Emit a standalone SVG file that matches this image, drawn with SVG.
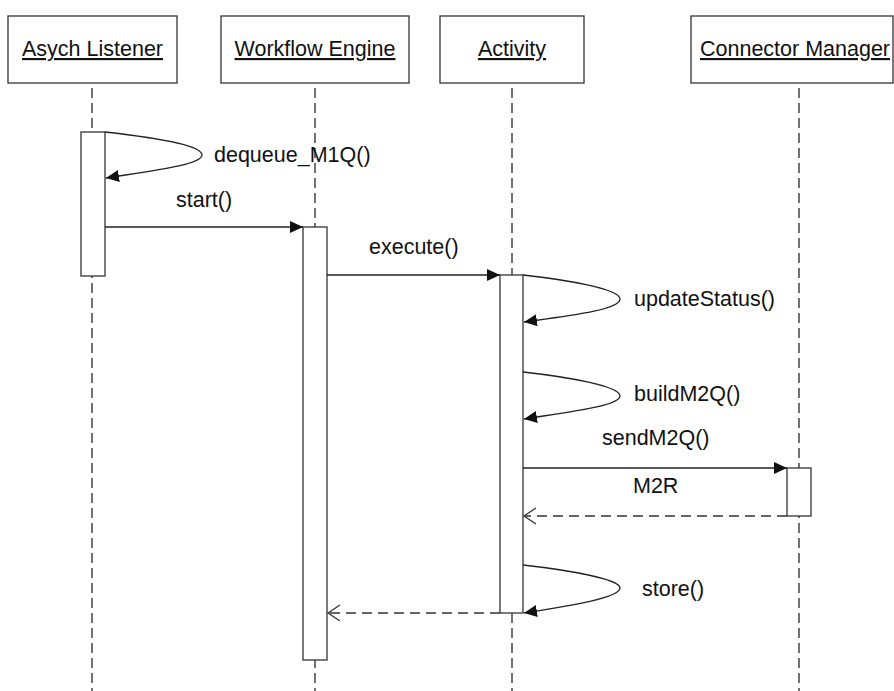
<svg xmlns="http://www.w3.org/2000/svg" width="894" height="691" viewBox="0 0 894 691">
  <style>
    .box { fill: #fff; stroke: #333; stroke-width: 1.3; }
    .life { stroke: #444; stroke-width: 1.5; stroke-dasharray: 10 5; fill: none; }
    .bar { fill: #fff; stroke: #333; stroke-width: 1.3; }
    .msg { stroke: #222; stroke-width: 1.3; fill: none; }
    .ret { stroke: #333; stroke-width: 1.3; fill: none; stroke-dasharray: 10 6; }
    .title { font-family: "Liberation Sans", Arial, sans-serif; font-size: 21.5px; fill: #111; text-anchor: middle; text-decoration: underline; }
    .lbl { font-family: "Liberation Sans", Arial, sans-serif; font-size: 21.5px; fill: #111; }
  </style>
  <defs>
    <marker id="solid" markerWidth="14" markerHeight="12" refX="13" refY="6" orient="auto" markerUnits="userSpaceOnUse">
      <path d="M0,0 L13,6 L0,12 Z" fill="#111"/>
    </marker>
    <marker id="open" markerWidth="14" markerHeight="18" refX="12" refY="9" orient="auto" markerUnits="userSpaceOnUse">
      <path d="M0,1 L12,9 L0,17" fill="none" stroke="#333" stroke-width="1.3"/>
    </marker>
  </defs>

  <!-- lifelines -->
  <g id="lifelines">
    <line class="life" x1="92" y1="88" x2="92" y2="691"/>
    <line class="life" x1="315" y1="88" x2="315" y2="691"/>
    <line class="life" x1="512" y1="88" x2="512" y2="691"/>
    <line class="life" x1="799" y1="88" x2="799" y2="691"/>
  </g>

  <!-- participants -->
  <g id="asych-listener">
    <rect class="box" x="8" y="16" width="169" height="67"/>
    <text class="title" x="92.5" y="56">Asych Listener</text>
    <rect class="bar" x="81" y="132" width="24" height="144"/>
  </g>
  <g id="workflow-engine">
    <rect class="box" x="221" y="16" width="188" height="67"/>
    <text class="title" x="315" y="56">Workflow Engine</text>
    <rect class="bar" x="303" y="227" width="24" height="433"/>
  </g>
  <g id="activity">
    <rect class="box" x="440" y="16" width="144" height="67"/>
    <text class="title" x="512" y="56">Activity</text>
    <rect class="bar" x="500" y="275" width="23" height="338"/>
  </g>
  <g id="connector-manager">
    <rect class="box" x="691" y="16" width="202" height="67"/>
    <text class="title" x="795" y="56">Connector Manager</text>
    <rect class="bar" x="787" y="468" width="24" height="48"/>
  </g>

  <!-- messages -->
  <g id="connectors">
    <path class="msg" d="M105,132 C150,137 202,145 202,155 C202,165 150,171 106,178" marker-end="url(#solid)"/>
    <line class="msg" x1="105" y1="227" x2="303" y2="227" marker-end="url(#solid)"/>
    <line class="msg" x1="327" y1="275" x2="500" y2="275" marker-end="url(#solid)"/>
    <path class="msg" d="M523,275 C568,280 620,289 620,299 C620,310 568,316 524,322" marker-end="url(#solid)"/>
    <path class="msg" d="M523,372 C568,377 620,386 620,396 C620,406 568,412 524,419" marker-end="url(#solid)"/>
    <line class="msg" x1="523" y1="468" x2="787" y2="468" marker-end="url(#solid)"/>
    <line class="ret" x1="787" y1="516" x2="524" y2="516" marker-end="url(#open)"/>
    <path class="msg" d="M523,565 C568,570 620,579 620,588 C620,598 568,606 524,613" marker-end="url(#solid)"/>
    <line class="ret" x1="500" y1="613" x2="328" y2="613" marker-end="url(#open)"/>
  </g>

  <!-- message labels -->
  <g id="labels">
    <text class="lbl" x="214" y="162">dequeue_M1Q()</text>
    <text class="lbl" x="176" y="207">start()</text>
    <text class="lbl" x="369" y="254">execute()</text>
    <text class="lbl" x="634" y="306">updateStatus()</text>
    <text class="lbl" x="634" y="401">buildM2Q()</text>
    <text class="lbl" x="602" y="445">sendM2Q()</text>
    <text class="lbl" x="633" y="493">M2R</text>
    <text class="lbl" x="642" y="596">store()</text>
  </g>
</svg>
